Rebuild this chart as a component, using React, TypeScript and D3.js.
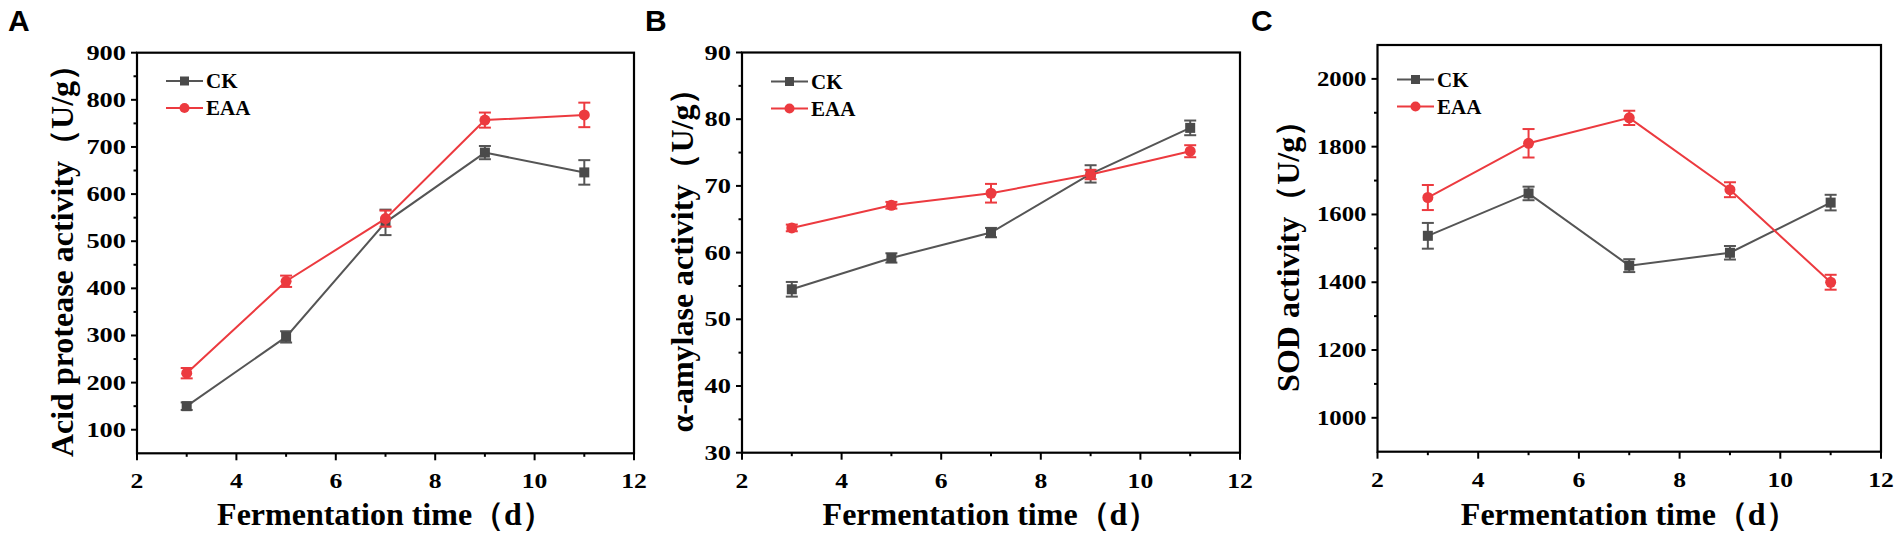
import React from "react";
import * as d3 from "d3";

const days = [3, 5, 7, 9, 11];
const xTickValues = [2, 4, 6, 8, 10, 12];
const xMinorValues = [3, 5, 7, 9, 11];

const acidCK = [150, 297, 540, 688, 646];
const acidCKErr = [8, 12, 27, 14, 26];
const acidEAA = [220, 415, 548, 757, 768];
const acidEAAErr = [11, 12, 17, 16, 26];

const amyCK = [54.5, 59.2, 63.0, 71.8, 78.7];
const amyCKErr = [1.1, 0.7, 0.7, 1.3, 1.1];
const amyEAA = [63.7, 67.1, 68.9, 71.7, 75.2];
const amyEAAErr = [0.5, 0.5, 1.4, 0.7, 0.9];

const sodCK = [1537, 1662, 1449, 1487, 1635];
const sodCKErr = [38, 20, 19, 20, 23];
const sodEAA = [1650, 1810, 1885, 1673, 1400];
const sodEAAErr = [37, 42, 21, 22, 22];

const acidTicks = [100, 200, 300, 400, 500, 600, 700, 800, 900];
const acidMinor = [150, 250, 350, 450, 550, 650, 750, 850];
const amyTicks = [30, 40, 50, 60, 70, 80, 90];
const amyMinor = [35, 45, 55, 65, 75, 85];
const sodTicks = [1000, 1200, 1400, 1600, 1800, 2000];
const sodMinor = [1100, 1300, 1500, 1700, 1900];

const seriesNames = ["CK", "EAA"];
const CK_COLOR = "#555555";
const CK_MARK = "#4a4a4a";
const EAA_COLOR = "#ec3a3f";
const SERIF = "'Liberation Serif', 'Times New Roman', serif";
const SANS = "'Liberation Sans', Arial, sans-serif";

type PanelProps = {
  letter: string;
  letterX: number;
  left: number;
  right: number;
  top: number;
  bottom: number;
  yDomain: [number, number];
  yTicks: number[];
  yMinor: number[];
  yTitle: string;
  yTitleX: number;
  ck: number[];
  ckErr: number[];
  eaa: number[];
  eaaErr: number[];
  legendX: number;
  legendY: number;
  digitW: number;
};

function Panel(p: PanelProps) {
  const x = d3.scaleLinear().domain([2, 12]).range([p.left, p.right]);
  const y = d3.scaleLinear().domain(p.yDomain).range([p.bottom, p.top]);
  const line = d3
    .line<number>()
    .x((_, i) => x(days[i]))
    .y((v) => y(v));
  const cap = 6;
  const series = [
    { vals: p.ck, errs: p.ckErr, color: CK_COLOR, mark: CK_MARK, shape: "square" },
    { vals: p.eaa, errs: p.eaaErr, color: EAA_COLOR, mark: EAA_COLOR, shape: "circle" },
  ];
  const cx = (p.left + p.right) / 2;
  const cy = (p.top + p.bottom) / 2;
  return (
    <g>
      <text x={p.letterX} y={31} fontFamily={SANS} fontWeight="bold" fontSize={30} fill="#000">
        {p.letter}
      </text>
      {/* frame */}
      <rect x={p.left} y={p.top} width={p.right - p.left} height={p.bottom - p.top} fill="none" stroke="#000" strokeWidth={2.2} />
      {/* y ticks */}
      {p.yTicks.map((t) => (
        <g key={"yt" + t}>
          <line x1={p.left - 6} x2={p.left} y1={y(t)} y2={y(t)} stroke="#000" strokeWidth={2} />
          <text
            x={p.left - 11}
            y={y(t)}
            dy="0.35em"
            textAnchor="end"
            fontFamily={SERIF}
            fontWeight="bold"
            fontSize={20}
            textLength={String(t).length * p.digitW}
            lengthAdjust="spacingAndGlyphs"
          >
            {t}
          </text>
        </g>
      ))}
      {p.yMinor.map((t) => (
        <line key={"ym" + t} x1={p.left - 3.5} x2={p.left} y1={y(t)} y2={y(t)} stroke="#000" strokeWidth={2} />
      ))}
      {/* x ticks */}
      {xTickValues.map((t) => (
        <g key={"xt" + t}>
          <line x1={x(t)} x2={x(t)} y1={p.bottom} y2={p.bottom + 7} stroke="#000" strokeWidth={2} />
          <text
            x={x(t)}
            y={p.bottom + 35}
            textAnchor="middle"
            fontFamily={SERIF}
            fontWeight="bold"
            fontSize={20}
            textLength={String(t).length * 12.8}
            lengthAdjust="spacingAndGlyphs"
          >
            {t}
          </text>
        </g>
      ))}
      {xMinorValues.map((t) => (
        <line key={"xm" + t} x1={x(t)} x2={x(t)} y1={p.bottom} y2={p.bottom + 3.5} stroke="#000" strokeWidth={2} />
      ))}
      {/* axis titles */}
      <text x={cx} y={525} textAnchor="middle" fontFamily={SERIF} fontWeight="bold" fontSize={32}>
        Fermentation time（d）
      </text>
      <text
        transform={`translate(${p.yTitleX},${cy}) rotate(-90)`}
        textAnchor="middle"
        dy="0.35em"
        fontFamily={SERIF}
        fontWeight="bold"
        fontSize={32}
      >
        {p.yTitle}
      </text>
      {/* series */}
      {series.map((s, si) => (
        <g key={"s" + si}>
          <path d={line(s.vals) || ""} fill="none" stroke={s.color} strokeWidth={2} />
          {s.vals.map((v, i) => (
            <g key={i} stroke={s.color} strokeWidth={2}>
              <line x1={x(days[i])} x2={x(days[i])} y1={y(v - s.errs[i])} y2={y(v + s.errs[i])} />
              <line x1={x(days[i]) - cap} x2={x(days[i]) + cap} y1={y(v - s.errs[i])} y2={y(v - s.errs[i])} />
              <line x1={x(days[i]) - cap} x2={x(days[i]) + cap} y1={y(v + s.errs[i])} y2={y(v + s.errs[i])} />
            </g>
          ))}
          {s.vals.map((v, i) =>
            s.shape === "square" ? (
              <rect key={"m" + i} x={x(days[i]) - 5} y={y(v) - 5} width={10} height={10} fill={s.mark} />
            ) : (
              <circle key={"m" + i} cx={x(days[i])} cy={y(v)} r={5.5} fill={s.mark} />
            )
          )}
        </g>
      ))}
      {/* legend */}
      {seriesNames.map((name, i) => {
        const ly = p.legendY + i * 27;
        const s = series[i];
        return (
          <g key={"lg" + name}>
            <line x1={p.legendX} x2={p.legendX + 37} y1={ly} y2={ly} stroke={s.color} strokeWidth={2} />
            {s.shape === "square" ? (
              <rect x={p.legendX + 18.5 - 4.5} y={ly - 4.5} width={9} height={9} fill={s.mark} />
            ) : (
              <circle cx={p.legendX + 18.5} cy={ly} r={5} fill={s.mark} />
            )}
            <text x={p.legendX + 40} y={ly} dy="0.35em" fontFamily={SERIF} fontWeight="bold" fontSize={21}>
              {name}
            </text>
          </g>
        );
      })}
    </g>
  );
}

export default function App() {
  return (
    <svg
      width={1901}
      height={533}
      style={{ position: "absolute", left: 0, top: 0, background: "#fff" }}
    >
      <rect width={1901} height={533} fill="#fff" />
      <Panel
        letter="A"
        letterX={8}
        left={137}
        right={634}
        top={52.7}
        bottom={453.3}
        yDomain={[50, 900]}
        yTicks={acidTicks}
        yMinor={acidMinor}
        yTitle="Acid protease activity（U/g）"
        yTitleX={62}
        ck={acidCK}
        ckErr={acidCKErr}
        eaa={acidEAA}
        eaaErr={acidEAAErr}
        legendX={166}
        legendY={81}
        digitW={13.2}
      />
      <Panel
        letter="B"
        letterX={645}
        left={742}
        right={1240}
        top={52.5}
        bottom={452.7}
        yDomain={[30, 90]}
        yTicks={amyTicks}
        yMinor={amyMinor}
        yTitle="α-amylase activity（U/g）"
        yTitleX={682}
        ck={amyCK}
        ckErr={amyCKErr}
        eaa={amyEAA}
        eaaErr={amyEAAErr}
        legendX={771}
        legendY={81.5}
        digitW={13.2}
      />
      <Panel
        letter="C"
        letterX={1251}
        left={1377.5}
        right={1881}
        top={45}
        bottom={451.7}
        yDomain={[900, 2100]}
        yTicks={sodTicks}
        yMinor={sodMinor}
        yTitle="SOD activity（U/g）"
        yTitleX={1288}
        ck={sodCK}
        ckErr={sodCKErr}
        eaa={sodEAA}
        eaaErr={sodEAAErr}
        legendX={1397}
        legendY={79.5}
        digitW={12.4}
      />
    </svg>
  );
}
